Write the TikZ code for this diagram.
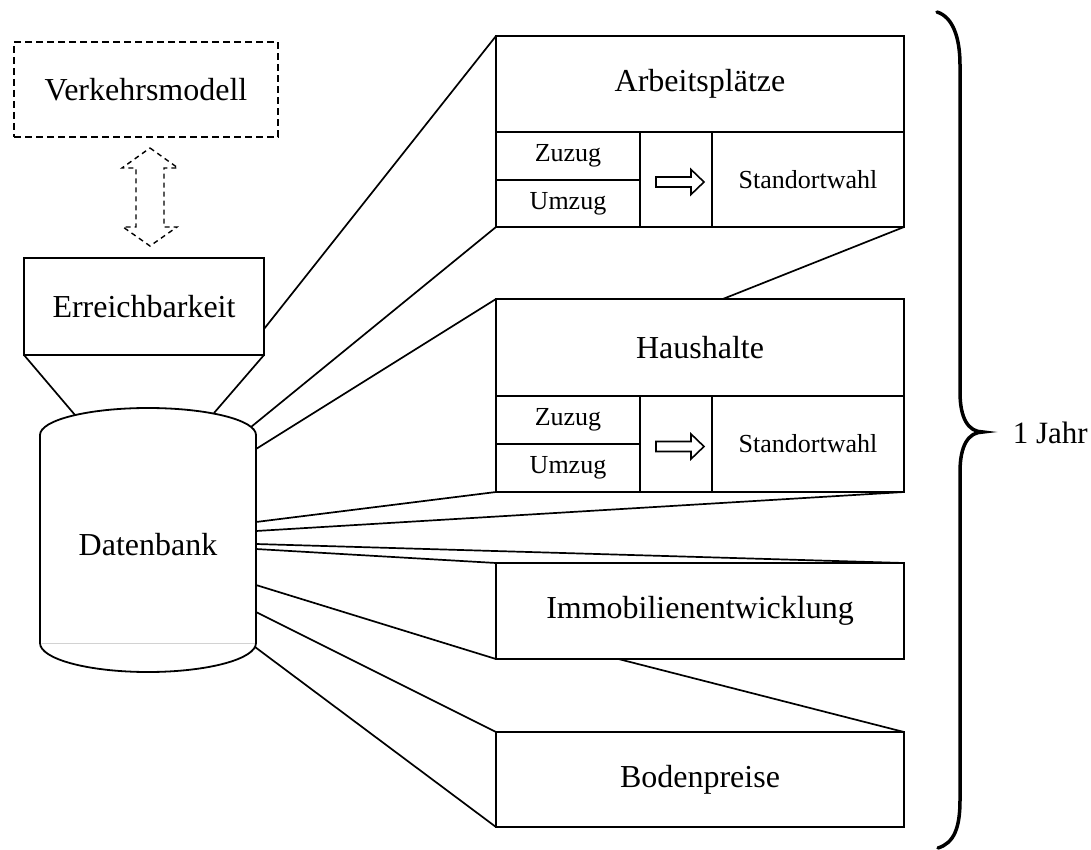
\documentclass[tikz,border=0pt]{standalone}
\usepackage{fontspec}
\setmainfont{Liberation Serif}
\usetikzlibrary{calc}
\newcommand\bigtxt{\fontsize{32}{38}\selectfont}
\newcommand\smalltxt{\fontsize{26}{31}\selectfont}
\begin{document}
\begin{tikzpicture}[x=1pt,y=-1pt,line width=1.8pt,
  box/.style={draw,rectangle,inner sep=0pt,outer sep=0pt,anchor=north west,font=\bigtxt},
  cell/.style={draw,rectangle,inner sep=0pt,outer sep=0pt,anchor=north west,font=\smalltxt},
  dashbox/.style={box,dash pattern=on 7pt off 4pt},
  link/.style={line width=1.7pt},
  hollow/.style={line width=1.6pt,line join=miter},
  bracestyle/.style={line width=3.5pt,line cap=round}]
\useasboundingbox (0,0) rectangle (1091,850);

% left column
\node[dashbox,minimum width=264pt,minimum height=95pt] (vm) at (14,42) {Verkehrsmodell};
\node[box,minimum width=240pt,minimum height=97pt] (er) at (24,258) {Erreichbarkeit};

% dashed double arrow
\coordinate (dmid) at ($(vm.south)!0.5!(er.north)$);
\draw[dash pattern=on 5pt off 4pt,line width=1.4pt]
  ($(dmid)+(5,-49.5)$) -- ++(28,20) -- ++(-14,0) -- ++(0,59) -- ++(13,0)
  -- ++(-27,19) -- ++(-27,-19) -- ++(13,0) -- ++(0,-59) -- ++(-14,0) -- cycle;

% database cylinder
\draw (40,435) arc[start angle=180,end angle=0,x radius=108pt,y radius=27pt]
  -- (256,643) arc[start angle=0,end angle=-180,x radius=108pt,y radius=29pt] -- cycle;
\node[inner sep=0pt,outer sep=0pt,minimum width=216pt,minimum height=208pt,anchor=north west,font=\bigtxt,text height=33pt,text depth=0pt] (db) at (40,435) {Datenbank};
\draw[gray!35,line width=0.8pt] ($(db.south west)+(1.5,0)$) -- ($(db.south east)+(-1.5,0)$);

% Arbeitsplaetze
\node[box,minimum width=408pt,minimum height=96pt] (arbT) at (496,36) {Arbeitsplätze};
\node[cell,minimum width=144pt,minimum height=48pt] (arbZ) at (arbT.south west) {Zuzug};
\node[cell,minimum width=144pt,minimum height=47pt] (arbU) at (arbZ.south west) {Umzug};
\node[cell,minimum width=72pt,minimum height=95pt] (arbA) at (arbZ.north east) {};
\node[cell,minimum width=192pt,minimum height=95pt] (arbS) at (arbA.north east) {Standortwahl};
\draw[hollow] ($(arbA.center)+(-20,-2.5)$) -- ++(35,0) -- ++(0,-7.5) -- ++(13,12.5)
  -- ++(-13,12.5) -- ++(0,-7.5) -- ++(-35,0) -- cycle;

% Haushalte
\node[box,minimum width=408pt,minimum height=97pt] (hhT) at (496,299) {Haushalte};
\node[cell,minimum width=144pt,minimum height=48pt] (hhZ) at (hhT.south west) {Zuzug};
\node[cell,minimum width=144pt,minimum height=48pt] (hhU) at (hhZ.south west) {Umzug};
\node[cell,minimum width=72pt,minimum height=96pt] (hhA) at (hhZ.north east) {};
\node[cell,minimum width=192pt,minimum height=96pt] (hhS) at (hhA.north east) {Standortwahl};
\draw[hollow] ($(hhA.center)+(-20,-2.5)$) -- ++(35,0) -- ++(0,-7.5) -- ++(13,12.5)
  -- ++(-13,12.5) -- ++(0,-7.5) -- ++(-35,0) -- cycle;

% Immobilien / Bodenpreise
\node[box,minimum width=408pt,minimum height=96pt] (imm) at (496,563) {Immobilienentwicklung};
\node[box,minimum width=408pt,minimum height=95pt] (bod) at (496,732) {Bodenpreise};

% connection points on database
\coordinate (tl) at (75,415);
\coordinate (tr) at (214,413);
\coordinate (c1) at (251,427);
\coordinate (c2) at ($(db.north east)+(0,14)$);
\coordinate (c3) at ($(db.north east)+(0,87)$);
\coordinate (c4) at ($(db.north east)+(0,96)$);
\coordinate (c5) at ($(db.north east)+(0,109)$);
\coordinate (c6) at ($(db.north east)+(0,114)$);
\coordinate (c7) at ($(db.north east)+(0,150)$);
\coordinate (c8) at ($(db.north east)+(0,177)$);
\coordinate (c9) at (255,647);

% connectors
\draw[link] (er.south west) -- (tl);
\draw[link] (er.south east) -- (tr);
\draw[link] ($(er.south east)+(0,-26)$) -- (arbT.north west);
\draw[link] (c1) -- (arbU.south west);
\draw[link] (c2) -- (hhT.north west);
\draw[link] (c3) -- (hhU.south west);
\draw[link] (c4) -- (hhS.south east);
\draw[link] (c5) -- (imm.north east);
\draw[link] (c6) -- (imm.north west);
\draw[link] (c7) -- (imm.south west);
\draw[link] (c8) -- (bod.north west);
\draw[link] (c9) -- (bod.south west);
\draw[link] (arbS.south east) -- ($(hhT.north west)!0.556!(hhT.north east)$);
\draw[link] ($(imm.south west)!0.3!(imm.south east)$) -- (bod.north east);

% brace
\draw[bracestyle] (937,12) .. controls (953,17) and (960,38) .. (960,65)
  -- (960,392) .. controls (960,418) and (968,432) .. (983,432)
  .. controls (968,432) and (960,446) .. (960,472)
  -- (960,800) .. controls (960,828) and (954,843) .. (938,848);
\node[font=\fontsize{31}{37}\selectfont,anchor=west,inner sep=0pt] (jahr) at (1012,433) {1 Jahr};
\end{tikzpicture}
\end{document}
